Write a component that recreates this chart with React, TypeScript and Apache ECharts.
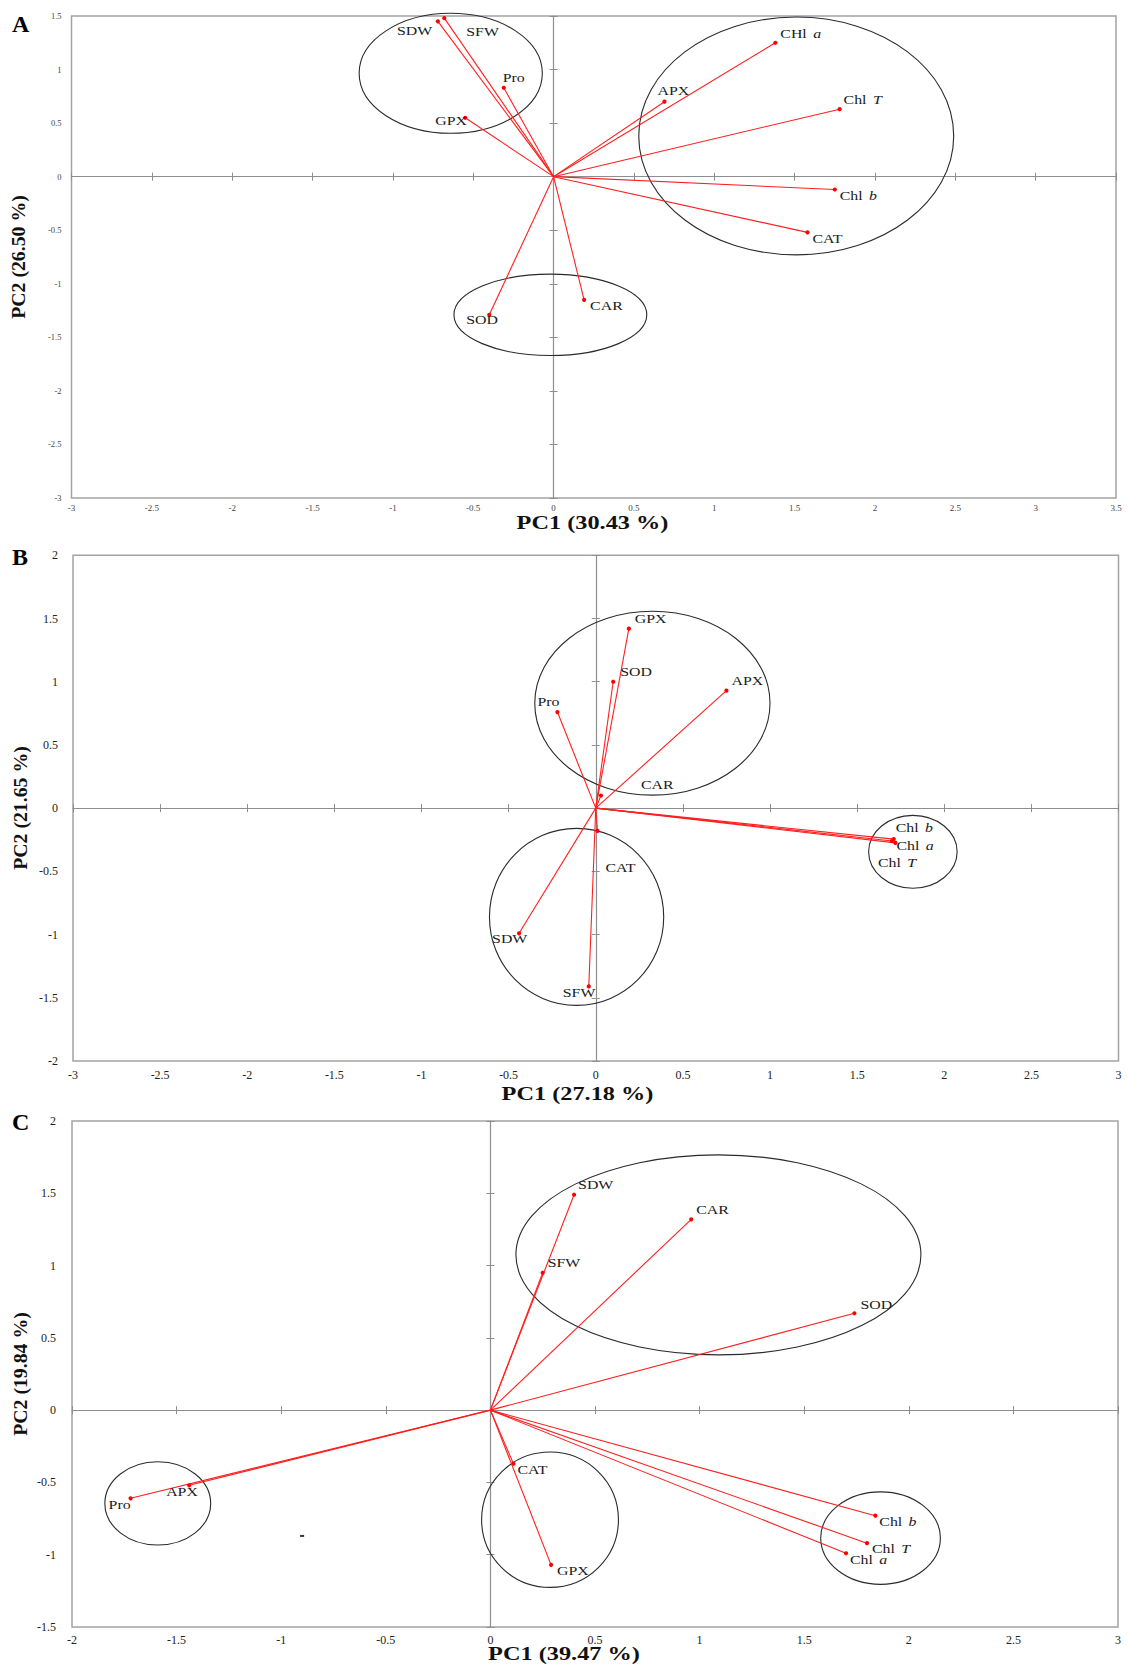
import React, { useEffect, useRef } from 'react';
import * as echarts from 'echarts';

// ---------------- Panel A ----------------
const varsA = ['SDW', 'SFW', 'Pro', 'GPX', 'CHl a', 'APX', 'Chl T', 'Chl b', 'CAT', 'SOD', 'CAR'];
const pc1A = [-0.72, -0.68, -0.31, -0.55, 1.38, 0.69, 1.78, 1.75, 1.58, -0.40, 0.19];
const pc2A = [1.45, 1.48, 0.83, 0.55, 1.25, 0.70, 0.63, -0.12, -0.52, -1.29, -1.15];
const ellCxA = [-0.64, 1.51, -0.02];
const ellCyA = [0.965, 0.38, -1.29];
const ellRxA = [0.57, 0.98, 0.60];
const ellRyA = [0.56, 1.11, 0.38];

// ---------------- Panel B ----------------
const varsB = ['GPX', 'SOD', 'APX', 'CAR', 'Pro', 'Chl b', 'Chl a', 'Chl T', 'CAT', 'SDW', 'SFW'];
const pc1B = [0.19, 0.10, 0.75, 0.03, -0.22, 1.71, 1.72, 1.70, 0.01, -0.44, -0.04];
const pc2B = [1.42, 1.00, 0.93, 0.10, 0.76, -0.245, -0.275, -0.26, -0.18, -0.99, -1.41];
const ellCxB = [0.325, -0.11, 1.82];
const ellCyB = [0.83, -0.86, -0.345];
const ellRxB = [0.675, 0.50, 0.254];
const ellRyB = [0.727, 0.70, 0.288];

// ---------------- Panel C ----------------
const varsC = ['SDW', 'CAR', 'SOD', 'SFW', 'Pro', 'APX', 'CAT', 'GPX', 'Chl b', 'Chl T', 'Chl a'];
const pc1C = [0.40, 0.96, 1.74, 0.25, -1.72, -1.44, 0.11, 0.29, 1.84, 1.80, 1.70];
const pc2C = [1.49, 1.32, 0.67, 0.95, -0.61, -0.52, -0.37, -1.07, -0.73, -0.92, -0.99];
const ellCxC = [1.09, -1.59, 0.285, 1.865];
const ellCyC = [1.074, -0.645, -0.758, -0.885];
const ellRxC = [0.968, 0.253, 0.327, 0.286];
const ellRyC = [0.692, 0.288, 0.468, 0.32];
const strayC = [[-0.9, -0.87]];

// ---------------- Axes / titles ----------------
const panelLetters = ['A', 'B', 'C'];
const pc1Titles = ['PC1 (30.43 %)', 'PC1 (27.18 %)', 'PC1 (39.47 %)'];
const pc2Titles = ['PC2 (26.50 %)', 'PC2 (21.65 %)', 'PC2 (19.84 %)'];
const xMins = [-3, -3, -2];
const xMaxs = [3.5, 3, 3];
const yMins = [-3, -2, -1.5];
const yMaxs = [1.5, 2, 2];
const tickStep = 0.5;

// ---------------- Layout (pixels, styling only) ----------------
const SERIF = '"Liberation Serif", "Times New Roman", serif';
const gridBoxes = [
  { left: 71.5, top: 16, width: 1044.5, height: 482 },
  { left: 73, top: 555.3, width: 1045.5, height: 505.7 },
  { left: 72, top: 1121, width: 1046, height: 506 },
];
const tickFont = [
  { x: 9, y: 8.5, xMargin: 5, yMargin: 10, color: '#444' },
  { x: 12, y: 12, xMargin: 8, yMargin: 15, color: '#222' },
  { x: 12, y: 12, xMargin: 7, yMargin: 16, color: '#222' },
];
const letterPos = [[12, 24], [12, 557], [12, 1121.5]];
const pc1Pos = [[592.5, 523], [577.5, 1094], [564, 1654]];
const pc2Pos = [[19, 257], [21, 808], [21, 1374]];

const offsetsA: Record<string, [number, number]> = {
  SDW: [-41, 9], SFW: [22, 13], Pro: [-1, -10], GPX: [-30, 3], 'CHl a': [5, -9],
  APX: [-7, -11], 'Chl T': [4, -10], 'Chl b': [5, 6], CAT: [5, 6], SOD: [-23, 5], CAR: [6, 6],
};
const offsetsB: Record<string, [number, number]> = {
  GPX: [6, -10], SOD: [7, -10], APX: [5, -10], CAR: [40, -11], Pro: [-20, -10],
  'Chl b': [2, -11], 'Chl a': [1, 3], 'Chl T': [-14, 22], CAT: [8, 37], SDW: [-27, 5], SFW: [-26, 6],
};
const offsetsC: Record<string, [number, number]> = {
  SDW: [4, -10], CAR: [5, -10], SOD: [6, -9], SFW: [5, -10], Pro: [-22, 6], APX: [-23, 6],
  CAT: [4, 6], GPX: [6, 6], 'Chl b': [4, 6], 'Chl T': [5, 5], 'Chl a': [4, 6],
};

const panels = [
  { names: varsA, pc1: pc1A, pc2: pc2A, ecx: ellCxA, ecy: ellCyA, erx: ellRxA, ery: ellRyA, offsets: offsetsA, stray: [] as number[][] },
  { names: varsB, pc1: pc1B, pc2: pc2B, ecx: ellCxB, ecy: ellCyB, erx: ellRxB, ery: ellRyB, offsets: offsetsB, stray: [] as number[][] },
  { names: varsC, pc1: pc1C, pc2: pc2C, ecx: ellCxC, ecy: ellCyC, erx: ellRxC, ery: ellRyC, offsets: offsetsC, stray: strayC },
];

const LABEL_SIZE = 12.5;
const LABEL_COLOR = '#1a1a1a';
const richStyles = {
  n: { fontFamily: SERIF, fontSize: LABEL_SIZE, fill: LABEL_COLOR },
  i: { fontFamily: SERIF, fontSize: LABEL_SIZE, fill: LABEL_COLOR, fontStyle: 'italic', padding: [0, 0, 0, 5] },
};
const fmtName = (name: string) => {
  const m = name.match(/^(C[Hh]l) (\w)$/);
  return m ? `{n|${m[1]}}{i|${m[2]}}` : name;
};

const AXIS_GREY = '#8e8e8e';

function buildOption() {
  const grids: any[] = [];
  const xAxes: any[] = [];
  const yAxes: any[] = [];
  const series: any[] = [];

  panels.forEach((p, gi) => {
    const box = gridBoxes[gi];
    grids.push({
      ...box,
      show: true,
      borderColor: '#a3a3a3',
      borderWidth: 1.5,
      backgroundColor: '#ffffff',
      containLabel: false,
      outerBoundsMode: 'none',
    });
    const xBase = xAxes.length;
    const yBase = yAxes.length;
    const tf = tickFont[gi];
    const cx = { type: 'value', gridIndex: gi, min: xMins[gi], max: xMaxs[gi], interval: tickStep, splitLine: { show: false } };
    const cy = { type: 'value', gridIndex: gi, min: yMins[gi], max: yMaxs[gi], interval: tickStep, splitLine: { show: false } };
    // label axes (plot edges)
    xAxes.push({
      ...cx, position: 'bottom',
      axisLine: { show: false, onZero: false }, axisTick: { show: false },
      axisLabel: { show: true, margin: tf.xMargin, fontSize: tf.x, fontFamily: SERIF, color: tf.color, showMinLabel: true, showMaxLabel: true },
    });
    // zero-crossing axis with outward ticks
    xAxes.push({
      ...cx, position: 'bottom',
      axisLine: { show: true, onZero: true, onZeroAxisIndex: yBase, lineStyle: { color: AXIS_GREY, width: 1.2 } },
      axisTick: { show: true, inside: false, length: 4, lineStyle: { color: AXIS_GREY, width: 1 } },
      axisLabel: { show: false },
    });
    // zero-crossing axis with inward ticks
    xAxes.push({
      ...cx, position: 'bottom',
      axisLine: { show: true, onZero: true, onZeroAxisIndex: yBase, lineStyle: { color: AXIS_GREY, width: 1, opacity: 0 } },
      axisTick: { show: true, inside: true, length: 4, lineStyle: { color: AXIS_GREY, width: 1 } },
      axisLabel: { show: false },
    });
    yAxes.push({
      ...cy, position: 'left',
      axisLine: { show: false, onZero: false }, axisTick: { show: false },
      axisLabel: { show: true, margin: tf.yMargin, fontSize: tf.y, fontFamily: SERIF, color: tf.color, showMinLabel: true, showMaxLabel: true },
    });
    yAxes.push({
      ...cy, position: 'left',
      axisLine: { show: true, onZero: true, onZeroAxisIndex: xBase, lineStyle: { color: AXIS_GREY, width: 1.2 } },
      axisTick: { show: true, inside: false, length: 4, lineStyle: { color: AXIS_GREY, width: 1 } },
      axisLabel: { show: false },
    });
    yAxes.push({
      ...cy, position: 'left',
      axisLine: { show: true, onZero: true, onZeroAxisIndex: xBase, lineStyle: { color: AXIS_GREY, width: 1, opacity: 0 } },
      axisTick: { show: true, inside: true, length: 4, lineStyle: { color: AXIS_GREY, width: 1 } },
      axisLabel: { show: false },
    });

    // ellipses
    series.push({
      type: 'custom',
      name: `groups-${gi}`,
      xAxisIndex: xBase,
      yAxisIndex: yBase,
      encode: { x: 0, y: 1 },
      silent: true,
      z: 3,
      data: p.ecx.map((c, i) => [c, p.ecy[i], p.erx[i], p.ery[i]]),
      renderItem: (_params: any, api: any) => {
        const c = api.coord([api.value(0), api.value(1)]);
        const s = api.size([api.value(2), api.value(3)]);
        return {
          type: 'ellipse',
          shape: { cx: c[0], cy: c[1], rx: s[0], ry: s[1] },
          style: { fill: 'none', stroke: '#2a2a2a', lineWidth: 1.1 },
        };
      },
    });

    // loading vectors
    const names = p.names;
    const offsets = p.offsets;
    series.push({
      type: 'custom',
      name: `vectors-${gi}`,
      xAxisIndex: xBase,
      yAxisIndex: yBase,
      encode: { x: 0, y: 1 },
      silent: true,
      z: 5,
      data: names.map((_n, i) => [p.pc1[i], p.pc2[i]]),
      renderItem: (params: any, api: any) => {
        const i = params.dataIndex;
        const o = api.coord([0, 0]);
        const pt = api.coord([api.value(0), api.value(1)]);
        const off = offsets[names[i]] || [4, -8];
        return {
          type: 'group',
          children: [
            { type: 'line', shape: { x1: o[0], y1: o[1], x2: pt[0], y2: pt[1] }, style: { stroke: '#ff1f1f', lineWidth: 1.1 } },
            { type: 'circle', shape: { cx: pt[0], cy: pt[1], r: 2.1 }, style: { fill: '#ff0000' } },
            {
              type: 'text',
              x: pt[0] + off[0],
              y: pt[1] + off[1],
              scaleX: 1.27,
              style: {
                text: fmtName(names[i]),
                rich: richStyles,
                fontFamily: SERIF,
                fontSize: LABEL_SIZE,
                fill: LABEL_COLOR,
                align: 'left',
                verticalAlign: 'middle',
              },
            },
          ],
        };
      },
    });

    if (p.stray.length) {
      series.push({
        type: 'scatter',
        xAxisIndex: xBase,
        yAxisIndex: yBase,
        symbol: 'rect',
        symbolSize: [4, 2],
        itemStyle: { color: '#000' },
        silent: true,
        data: p.stray,
      });
    }
  });

  const graphic: any[] = [];
  panelLetters.forEach((t, i) => {
    graphic.push({
      type: 'text', x: letterPos[i][0], y: letterPos[i][1],
      style: { text: t, fontFamily: SERIF, fontWeight: 'bold', fontSize: 24, fill: '#000', align: 'left', verticalAlign: 'middle' },
    });
  });
  pc1Titles.forEach((t, i) => {
    graphic.push({
      type: 'text', x: pc1Pos[i][0], y: pc1Pos[i][1], scaleX: 1.35,
      style: { text: t, fontFamily: SERIF, fontWeight: 'bold', fontSize: 18, fill: '#111', align: 'center', verticalAlign: 'middle' },
    });
  });
  pc2Titles.forEach((t, i) => {
    graphic.push({
      type: 'text', x: pc2Pos[i][0], y: pc2Pos[i][1], rotation: Math.PI / 2, scaleX: 1.1,
      style: { text: t, fontFamily: SERIF, fontWeight: 'bold', fontSize: 18, fill: '#111', align: 'center', verticalAlign: 'middle' },
    });
  });

  return {
    animation: false,
    backgroundColor: '#ffffff',
    grid: grids,
    xAxis: xAxes,
    yAxis: yAxes,
    series,
    graphic,
  };
}

export default function App() {
  const ref = useRef<HTMLDivElement>(null);
  useEffect(() => {
    document.body.style.margin = '0';
    if (!ref.current) return;
    const chart = echarts.init(ref.current, null, { renderer: 'svg' });
    chart.setOption(buildOption() as any);
    return () => chart.dispose();
  }, []);
  return <div ref={ref} style={{ width: 1129, height: 1674 }} />;
}
